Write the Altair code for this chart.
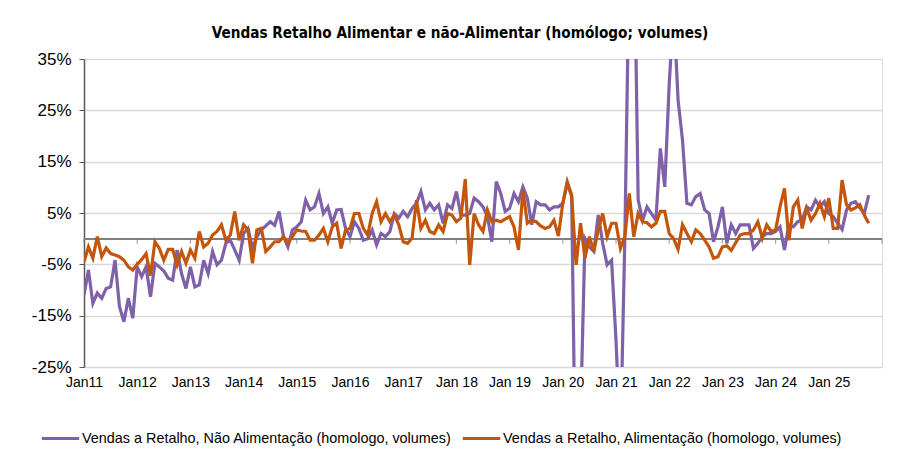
import altair as alt
import pandas as pd

# Monthly y-o-y changes (%), Jan 2011 ... Oct 2025
non_food = [
    -11.0, -6.1, -12.6, -10.6, -11.6, -9.7, -9.4, -4.2, -13.2, -16.2, -11.6, -15.5,
    -5.5, -7.4, -5.5, -11.3, -4.8, -5.5, -6.3, -7.7, -8.1, -2.2, -6.8, -9.7,
    -5.5, -9.4, -9.0, -4.2, -6.8, -2.5, -5.1, -4.2, -0.9, -0.3, -2.2, -4.2,
    1.0, 2.0, -1.9, 0.4, 1.7, 2.5, 3.3, 2.6, 5.3, 0.4, -1.6, 1.7,
    2.3, 3.3, 7.5, 5.6, 6.2, 8.8, 4.9, 6.2, 3.0, 5.6, 5.7, 2.0,
    0.4, 3.3, 2.0, -0.3, 0.0, 1.7, -1.2, 1.0, 0.4, 1.4, 4.9, 4.0,
    5.3, 4.3, 5.9, 6.9, 9.2, 5.6, 6.9, 5.6, 6.6, 3.0, 6.6, 5.9,
    9.2, 4.6, 4.6, 4.9, 7.9, 7.2, 6.2, 4.3, -0.6, 11.1, 8.8, 5.3,
    5.9, 8.8, 7.2, 10.1, 7.9, 2.7, 7.2, 6.6, 6.6, 5.6, 6.2, 6.2,
    6.9, 10.8, 8.2, -55.0, -35.0, 0.0, -1.6, -2.5, 4.6, -0.9, -5.1, -4.2,
    -19.7, -40.0, 0.4, 55.0, 65.0, 7.5, 3.6, 6.2, 4.9, 3.6, 17.6, 10.1,
    30.0, 45.0, 27.0, 19.2, 6.9, 6.6, 8.2, 8.8, 5.6, 4.9, -0.6, 2.3,
    6.2, -0.9, 2.7, 1.0, 2.7, 2.7, 2.7, -1.9, -0.9, 0.4, 1.0, 1.0,
    1.4, 2.3, -2.2, 2.7, 2.3, 3.3, 3.6, 6.2, 5.6, 7.5, 6.2, 7.2,
    4.9, 4.3, 3.0, 1.8, 5.6, 6.9, 7.2, 6.0, 4.9, 8.5,
]
food = [
    -4.5, -1.6, -3.8, 0.4, -3.5, -1.8, -2.9, -3.2, -3.5, -4.2, -5.5, -6.1,
    -5.0, -4.1, -2.9, -7.2, -0.6, -1.9, -4.2, -2.1, -2.1, -5.1, -2.5, -4.8,
    -2.2, -3.8, 1.4, -1.6, -0.9, 0.7, 1.4, 2.7, -0.3, 0.7, 5.3, -0.3,
    2.7, 1.7, -4.8, 1.7, 2.0, -2.5, -1.6, -0.6, -0.6, 0.4, -0.9, 0.4,
    1.7, 1.5, 1.4, -0.3, -0.3, 0.7, 2.0, -0.6, 2.3, 3.0, -1.9, 1.7,
    2.0, 4.9, 4.9, 2.0, 0.7, 4.9, 7.2, 3.3, 4.9, 3.3, 4.6, 2.7,
    -0.6, -0.9, 0.1, 7.5, 2.0, 3.6, 1.4, 1.0, 2.7, 1.4, 4.9, 4.6,
    3.3, 4.0, 11.6, -5.1, 4.9, 2.7, 1.4, 5.6, 3.3, 3.6, 3.3, 3.8,
    4.3, 2.3, -2.2, 9.5, 3.0, 3.6, 3.3, 2.5, 2.0, 2.3, 3.6, 0.5,
    6.9, 11.1, 8.5, -5.1, 3.0, -3.8, 0.4, -2.5, 1.7, 4.9, 0.4, 3.0,
    3.0, -1.9, 0.4, 8.8, 0.4, 4.9, 3.3, 3.1, 2.3, 3.0, 5.3, 5.3,
    1.0, 0.0, -2.1, 2.7, 1.0, -0.6, 1.7, 1.0, -0.3, -1.6, -3.8, -3.5,
    -1.6, -1.4, -2.3, -0.8, 0.7, 1.0, 1.0, 1.7, 3.3, 0.1, 2.7, 1.4,
    1.7, 6.2, 9.8, -0.3, 6.2, 7.5, 2.0, 5.9, 3.6, 4.9, 6.9, 4.3,
    7.9, 2.0, 2.0, 11.4, 6.6, 5.6, 6.0, 6.6, 4.6, 3.0,
]
series_names = [
    "Vendas a Retalho, Não Alimentação (homologo, volumes)",
    "Vendas a Retalho, Alimentação (homologo, volumes)",
]
series_colors = ["#7E61A8", "#C4560C"]
tick_months = [0, 12, 24, 36, 48, 60, 72, 84, 96, 108, 120, 132, 144, 156, 168, 180]
tick_labels = ["Jan11", "Jan12", "Jan13", "Jan14", "Jan15", "Jan16", "Jan17", "Jan 18",
               "Jan 19", "Jan 20", "Jan 21", "Jan 22", "Jan 23", "Jan 24", "Jan 25", ""]
y_ticks = [-25, -15, -5, 5, 15, 25, 35]
title_text = "Vendas Retalho Alimentar e não-Alimentar (homólogo; volumes)"

rows = []
for name, vals in zip(series_names, [non_food, food]):
    for i, v in enumerate(vals):
        rows.append({"m": i, "v": v, "s": name})
df = pd.DataFrame(rows)
ticks_df = pd.DataFrame({"m": tick_months})

label_map = "{" + ",".join(f"'{m}':'{l}'" for m, l in zip(tick_months, tick_labels)) + "}"

FONT = "Liberation Sans"
xscale = alt.Scale(domain=[0, 180], nice=False, zero=False)
yscale = alt.Scale(domain=[-25, 35], nice=False, zero=False)

lines = alt.Chart(df).mark_line(strokeWidth=3.2, clip=True).encode(
    x=alt.X("m:Q", scale=xscale,
            axis=alt.Axis(values=tick_months, labelExpr=f"{label_map}[datum.value + '']",
                          title=None, grid=False, domain=False, ticks=False,
                          labelFont=FONT, labelFontSize=14, labelColor="#000000",
                          labelPadding=8, labelFlush=False, labelOverlap=False)),
    y=alt.Y("v:Q", scale=yscale,
            axis=alt.Axis(values=y_ticks, format=".0f", labelExpr="datum.value + '%'",
                          title=None, grid=True, gridColor="#D9D9D9", gridWidth=1.5,
                          domain=True, domainColor="#595959", domainWidth=1.5,
                          ticks=True, tickSize=5, tickColor="#595959",
                          labelFont=FONT, labelFontSize=17, labelColor="#000000",
                          labelPadding=8)),
    color=alt.Color("s:N", sort=series_names,
                    scale=alt.Scale(domain=series_names, range=series_colors),
                    legend=alt.Legend(title=None, orient="none", direction="horizontal",
                                      legendX=-44, legendY=359,
                                      symbolType="stroke", symbolStrokeWidth=3,
                                      symbolSize=1400, labelFont=FONT, labelFontSize=14.4,
                                      labelColor="#000000", labelLimit=600,
                                      columnPadding=4, labelOffset=1)),
    order="s:N",
)

zero_rule = alt.Chart(ticks_df).mark_rule(color="#7F7F7F", strokeWidth=1.2).encode(
    y=alt.Y("z:Q", scale=yscale),
).transform_calculate(z="0")

year_ticks = alt.Chart(ticks_df).mark_tick(orient="vertical", size=5, thickness=1.2,
                                           color="#7F7F7F", yOffset=2.5).encode(
    x=alt.X("m:Q", scale=xscale),
    y=alt.Y("z:Q", scale=yscale),
).transform_calculate(z="0")

chart = alt.layer(zero_rule, year_ticks, lines).properties(
    width=798, height=308,
    title=alt.TitleParams(title_text, font="DejaVu Sans Condensed, Liberation Sans", fontSize=15.2,
                          fontWeight="bold", color="#000000", anchor="middle",
                          dx=-23, offset=9),
    autosize=alt.AutoSizeParams(type="none"),
    padding={"left": 76, "top": 51, "right": 27, "bottom": 100},
).configure_view(stroke=None).configure(background="#FFFFFF")

chart.save("out.html", embed_options={"renderer": "svg", "actions": False})
